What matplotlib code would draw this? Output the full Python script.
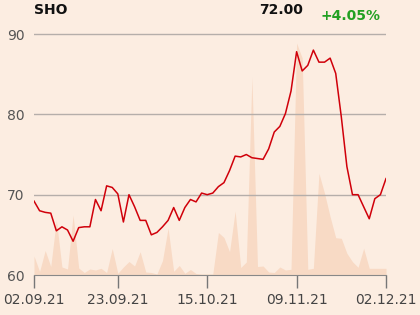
import matplotlib
matplotlib.use("Agg")
import matplotlib.pyplot as plt
import numpy as np

prices = [69.2, 68.0, 67.8, 67.7, 65.5, 66.0, 65.6, 64.2, 65.9, 66.0,
          66.0, 69.4, 68.0, 71.1, 70.9, 70.1, 66.6, 70.0, 68.5, 66.8,
          66.8, 65.0, 65.3, 66.0, 66.8, 68.4, 66.8, 68.4, 69.4, 69.1,
          70.2, 70.0, 70.2, 71.0, 71.5, 73.0, 74.8, 74.7, 75.0, 74.6,
          74.5, 74.4, 75.7, 77.8, 78.5, 80.1, 82.9, 87.8, 85.4, 86.1,
          88.0, 86.5, 86.5, 87.0, 85.1, 79.7, 73.5, 70.0, 70.0, 68.5,
          67.0, 69.5, 70.0, 72.0]

volumes = [190, 35, 245, 85, 550, 80, 60, 600, 70, 25,
           60, 50, 67, 25, 265, 17, 80, 135, 90, 233,
           30, 25, 10, 145, 470, 37, 95, 17, 55, 15,
           10, 10, 10, 425, 375, 233, 640, 75, 130, 1980,
           85, 90, 30, 25, 80, 50, 57, 2320, 2170, 57,
           67, 1017, 817, 583, 373, 367, 217, 133, 77, 267,
           67, 67, 67, 67]

tick_idx = [0, 15, 31, 47, 63]
tick_labels = ["02.09.21", "23.09.21", "15.10.21", "09.11.21", "02.12.21"]
y_ticks = [60, 70, 80, 90]

title = "SHO"
last_price = "72.00"
change = "+4.05%"

bg = "#fcede1"
fig = plt.figure(figsize=(4.2, 3.15), dpi=100, facecolor=bg)
ax_v = fig.add_axes([34/420, 40/315, 352/420, 249/315])
ax = ax_v.twinx()
ax_v.set_facecolor(bg)
ax.patch.set_visible(False)

x = np.arange(len(prices))
ax_v.fill_between(x, 0, volumes, color="#f8dac5", lw=0)
ax_v.set_ylim(0, 2490)
ax_v.set_xlim(0, len(prices) - 1)
ax_v.set_yticks([])

ax.plot(x, prices, color="#d0000a", lw=1.1, zorder=3)
ax.set_ylim(60, 91)

# price axis labels on the left
ax.yaxis.tick_left()
ax.set_yticks(y_ticks)
ax.tick_params(axis="y", length=0, pad=7, labelsize=10, labelcolor="#555555")
for yv in y_ticks[1:]:
    ax.axhline(yv, color="#b5aeaa", lw=1, zorder=1)

ax_v.set_xticks(tick_idx)
ax_v.set_xticklabels(tick_labels)
ax_v.tick_params(axis="x", length=9, width=1, color="#777777", labelsize=10,
                 labelcolor="#444444", pad=4)
ax.tick_params(axis="x", bottom=False, labelbottom=False)

for a in (ax, ax_v):
    for s in ("top", "right", "left"):
        a.spines[s].set_visible(False)
ax_v.spines["bottom"].set_color("#888888")
ax.spines["bottom"].set_visible(False)

fig.text(34/420, 1 - 10.5/315, title, fontsize=10, fontweight="bold",
         color="#111111", va="center", ha="left")
fig.text(303/420, 1 - 9.5/315, last_price, fontsize=10, fontweight="bold",
         color="#111111", va="center", ha="right")
fig.text(380/420, 1 - 16.5/315, change, fontsize=10, fontweight="bold",
         color="#22a022", va="center", ha="right")

fig.savefig("out.png", dpi=100, facecolor=bg)
